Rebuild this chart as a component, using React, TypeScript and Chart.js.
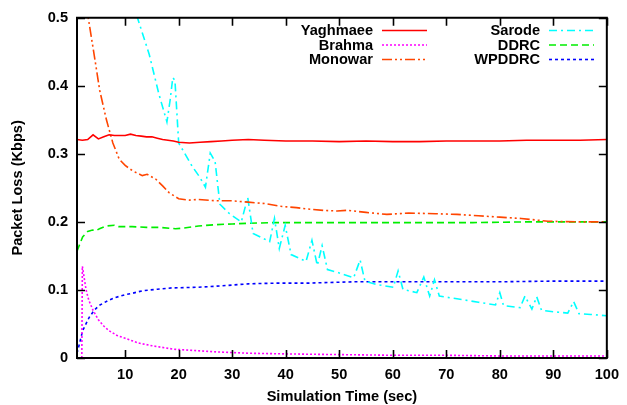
import React, { useEffect, useRef } from "react";
import { Chart, registerables } from "chart.js";

Chart.register(...registerables);

// ---- data ----
const xTicks = [10, 20, 30, 40, 50, 60, 70, 80, 90, 100];
const yTicks = [0, 0.1, 0.2, 0.3, 0.4, 0.5];
const yTickLabels = ["0", "0.1", "0.2", "0.3", "0.4", "0.5"];

const yaghX = [1, 2, 3, 4, 5, 6, 7, 8, 9, 10, 11, 12, 13, 14, 15, 16, 17, 18, 19, 20, 22, 24, 26, 28, 30, 33, 36, 40, 45, 50, 55, 60, 65, 70, 75, 80, 85, 90, 95, 100];
const yaghY = [0.321, 0.320, 0.321, 0.328, 0.322, 0.325, 0.328, 0.327, 0.327, 0.327, 0.329, 0.327, 0.326, 0.325, 0.325, 0.323, 0.321, 0.320, 0.319, 0.317, 0.316, 0.317, 0.318, 0.319, 0.320, 0.321, 0.320, 0.319, 0.319, 0.318, 0.319, 0.318, 0.318, 0.319, 0.319, 0.319, 0.320, 0.320, 0.320, 0.321];

const brahmaX = [1.9, 2, 2.3, 2.7, 3.2, 4, 5, 6, 7, 8.5, 10, 12.5, 15, 19, 23, 27, 33, 40, 50, 60, 70, 80, 90, 100];
const brahmaY = [0, 0.135, 0.12, 0.1, 0.085, 0.07, 0.056, 0.047, 0.04, 0.033, 0.029, 0.022, 0.018, 0.013, 0.011, 0.009, 0.007, 0.006, 0.005, 0.004, 0.004, 0.003, 0.003, 0.003];

const monowarX = [2.8, 3.1, 4.2, 5.25, 6.5, 7.7, 8.9, 10, 11.4, 13.2, 14.1, 15.7, 17, 18.2, 20, 22, 23.7, 27, 30, 33, 36, 39, 42, 44, 47, 49.6, 51.5, 55, 58.9, 63, 68, 72, 76, 80, 84, 89, 95, 100];
const monowarY = [0.52, 0.5, 0.446, 0.393, 0.35, 0.316, 0.292, 0.283, 0.275, 0.268, 0.27, 0.263, 0.253, 0.243, 0.234, 0.232, 0.233, 0.231, 0.231, 0.229, 0.227, 0.223, 0.221, 0.219, 0.217, 0.216, 0.217, 0.214, 0.211, 0.213, 0.212, 0.211, 0.209, 0.207, 0.205, 0.201, 0.2, 0.2];

const sarodeX = [11.8, 12.3, 14.5, 16.3, 17.8, 18.4, 18.9, 19.3, 20, 22.5, 24, 25, 25.9, 26.8, 27.7, 29.5, 31.7, 32.9, 33.9, 35.5, 37, 37.9, 38.8, 39.9, 41, 43.8, 44.9, 45.9, 46.8, 47.8, 50, 52.7, 53.9, 54.8, 57, 60.1, 61, 61.9, 64.5, 65.8, 66.9, 67.8, 68.7, 72, 76, 79.2, 80, 80.7, 83.8, 84.7, 86, 86.9, 87.8, 90, 92.7, 93.8, 94.8, 97, 100];
const sarodeY = [0.53, 0.5, 0.446, 0.388, 0.347, 0.379, 0.412, 0.408, 0.316, 0.282, 0.265, 0.251, 0.301, 0.289, 0.226, 0.212, 0.2, 0.236, 0.183, 0.177, 0.171, 0.205, 0.161, 0.195, 0.152, 0.142, 0.173, 0.136, 0.165, 0.13, 0.125, 0.118, 0.144, 0.113, 0.108, 0.104, 0.128, 0.101, 0.096, 0.119, 0.091, 0.115, 0.091, 0.087, 0.082, 0.078, 0.096, 0.077, 0.074, 0.091, 0.072, 0.09, 0.07, 0.068, 0.066, 0.083, 0.065, 0.064, 0.062];

const ddrcX = [1, 1.4, 2.05, 3, 3.9, 4.5, 5.2, 6.4, 8, 8.8, 10, 11.3, 14, 16.3, 19.4, 21, 23.7, 27, 30, 33, 38, 45, 55, 65, 75, 85, 95, 100];
const ddrcY = [0.157, 0.165, 0.178, 0.186, 0.188, 0.187, 0.19, 0.194, 0.195, 0.193, 0.193, 0.193, 0.192, 0.192, 0.19, 0.191, 0.194, 0.196, 0.197, 0.198, 0.199, 0.199, 0.199, 0.199, 0.199, 0.2, 0.2, 0.2];

const wpX = [1, 1.4, 2.05, 2.6, 3.3, 4.2, 5.1, 6.7, 8.2, 10, 11.3, 13.3, 16, 18.7, 23.7, 28, 33, 38, 44, 52.7, 60, 70, 80, 90, 100];
const wpY = [0.007, 0.019, 0.04, 0.049, 0.06, 0.07, 0.077, 0.084, 0.089, 0.093, 0.095, 0.099, 0.101, 0.103, 0.104, 0.106, 0.109, 0.11, 0.11, 0.112, 0.112, 0.112, 0.112, 0.113, 0.113];

const names = ["Yaghmaee", "Brahma", "Monowar", "Sarode", "DDRC", "WPDDRC"];
const colors = ["#ff0000", "#ff00ff", "#ff4500", "#00ffff", "#00ee00", "#0000ff"];
const dashes: number[][] = [[], [2, 2], [10, 3, 2, 3, 2, 3], [8, 4, 2, 4], [7, 4], [3, 3]];

const FONT = '"Liberation Sans", Arial, Helvetica, sans-serif';
const FS = 14.6;

function pts(xs: number[], ys: number[]) {
  return xs.map((x, i) => ({ x, y: ys[i] }));
}

const framePlugin = {
  id: "gnuFrame",
  afterDatasetsDraw(chart: any) {
    const { ctx, chartArea: a, scales } = chart;
    const xs = scales.x;
    const ys = scales.y;
    ctx.save();
    ctx.strokeStyle = "#000";
    ctx.lineWidth = 1.6;
    ctx.setLineDash([]);
    const tl = 8;
    ctx.beginPath();
    xTicks.forEach((v) => {
      const px = Math.round(xs.getPixelForValue(v)) + 0.5;
      ctx.moveTo(px, a.bottom);
      ctx.lineTo(px, a.bottom - tl);
      ctx.moveTo(px, a.top);
      ctx.lineTo(px, a.top + tl);
    });
    yTicks.forEach((v) => {
      const py = Math.round(ys.getPixelForValue(v)) + 0.5;
      ctx.moveTo(a.left, py);
      ctx.lineTo(a.left + tl, py);
      ctx.moveTo(a.right, py);
      ctx.lineTo(a.right - tl, py);
    });
    ctx.stroke();
    ctx.lineWidth = 2;
    ctx.strokeRect(a.left, a.top, a.right - a.left, a.bottom - a.top);

    // legend (gnuplot style: right-aligned text, sample to the right)
    ctx.font = `bold ${FS}px ${FONT}`;
    ctx.textAlign = "right";
    ctx.textBaseline = "middle";
    const rows = [30, 44.5, 59];
    const cols = [
      { textX: 373, s0: 382, s1: 427 },
      { textX: 540, s0: 549, s1: 594 },
    ];
    names.forEach((n, i) => {
      const c = cols[Math.floor(i / 3)];
      const y = rows[i % 3];
      ctx.fillStyle = "#000";
      ctx.fillText(n, c.textX, y + 1);
      ctx.strokeStyle = colors[i];
      ctx.lineWidth = 1.6;
      ctx.setLineDash(dashes[i]);
      ctx.beginPath();
      ctx.moveTo(c.s0, y + 0.5);
      ctx.lineTo(c.s1, y + 0.5);
      ctx.stroke();
    });
    ctx.restore();
  },
};

export default function App() {
  const ref = useRef<HTMLCanvasElement | null>(null);
  useEffect(() => {
    if (!ref.current) return;
    const series = [
      pts(yaghX, yaghY),
      pts(brahmaX, brahmaY),
      pts(monowarX, monowarY),
      pts(sarodeX, sarodeY),
      pts(ddrcX, ddrcY),
      pts(wpX, wpY),
    ];
    const chart = new Chart(ref.current, {
      type: "line",
      data: {
        datasets: series.map((d, i) => ({
          label: names[i],
          data: d,
          borderColor: colors[i],
          backgroundColor: colors[i],
          borderWidth: 1.6,
          borderDash: dashes[i],
          pointRadius: 0,
          tension: 0,
          fill: false,
        })),
      },
      options: {
        animation: false,
        responsive: false,
        devicePixelRatio: 1,
        layout: { padding: { left: 0, top: 13, right: 15, bottom: 0 } },
        plugins: { legend: { display: false }, tooltip: { enabled: false } },
        scales: {
          x: {
            type: "linear",
            min: 1,
            max: 100,
            grid: { display: false, drawTicks: false },
            border: { display: false },
            afterBuildTicks: (s: any) => {
              s.ticks = xTicks.map((v) => ({ value: v }));
            },
            afterFit: (s: any) => {
              s.height = 47;
            },
            ticks: {
              autoSkip: false,
              maxRotation: 0,
              padding: 8,
              color: "#000",
              font: { family: FONT, size: FS, weight: "bold" },
              callback: (v: any) => String(v),
            },
            title: {
              display: true,
              text: "Simulation Time (sec)",
              color: "#000",
              font: { family: FONT, size: FS, weight: "bold", lineHeight: 1 },
              padding: { top: 0, bottom: 1 },
            },
          },
          y: {
            type: "linear",
            min: 0,
            max: 0.5,
            grid: { display: false, drawTicks: false },
            border: { display: false },
            afterBuildTicks: (s: any) => {
              s.ticks = yTicks.map((v) => ({ value: v }));
            },
            afterFit: (s: any) => {
              s.width = 77;
            },
            ticks: {
              autoSkip: false,
              padding: 9,
              color: "#000",
              font: { family: FONT, size: FS, weight: "bold" },
              callback: (v: any, i: number) => yTickLabels[i],
            },
            title: {
              display: true,
              text: "Packet Loss (Kbps)",
              color: "#000",
              font: { family: FONT, size: FS, weight: "bold", lineHeight: 1 },
              padding: { top: 10.5, bottom: 0 },
            },
          },
        },
      },
      plugins: [framePlugin],
    } as any);
    return () => chart.destroy();
  }, []);
  return (
    <div style={{ position: "absolute", left: 0, top: 0, width: 627, height: 405, background: "#fff" }}>
      <canvas ref={ref} width={627} height={405} style={{ display: "block" }} />
    </div>
  );
}
